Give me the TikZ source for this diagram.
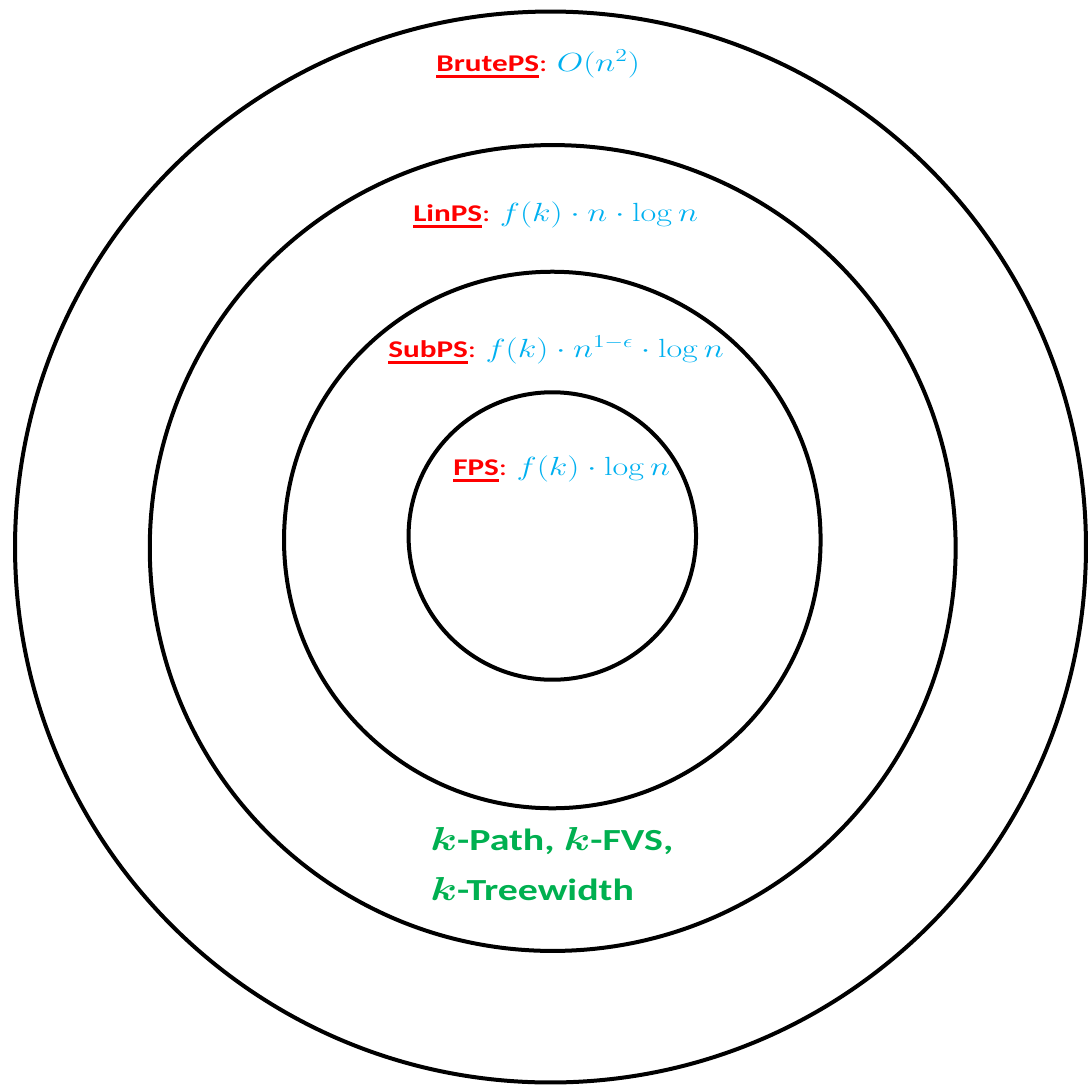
\documentclass[tikz,border=0pt]{standalone}
\usepackage{amsmath}
\usepackage[no-math]{fontspec}
\setmainfont{Carlito}
\usepackage{graphicx}
\usepackage{tikz}
\usetikzlibrary{positioning}

\definecolor{psred}{HTML}{FF0000}
\definecolor{psblue}{HTML}{00B0F0}
\definecolor{psgreen}{HTML}{00B050}

% underlined class name, running time, wide text
\newcommand{\ulname}[1]{\setbox0\hbox{\bfseries #1}\rlap{\rule[-5.2pt]{\wd0}{2.2pt}}\box0}
\newcommand{\runtime}[1]{{\color{psblue}\fontsize{20}{24}\selectfont\scalebox{0.95}{$#1$}}}
\newcommand{\widetext}[1]{\scalebox{1.3}[1]{#1}}

\tikzset{
  ring/.style={draw, line width=3pt},
  classlabel/.style={anchor=base west, inner sep=0pt, text=psred, font=\fontsize{18}{22}\selectfont},
  problems/.style={anchor=base west, inner sep=0pt, text=psgreen, font=\fontsize{23}{37.5}\selectfont\bfseries\boldmath}
}

\begin{document}
\begin{tikzpicture}[x=0.75pt, y=-0.75pt]
\useasboundingbox (0,0) rectangle (1088,1085);

% nested classes
\draw[ring] (550.5,547) circle (401.6pt);
\draw[ring] (552.7,548) circle (302.2pt);
\draw[ring] (552.3,540) circle (201.2pt);
\draw[ring] (552.3,536) circle (107.8pt);

\node[classlabel] (brute) at (436,71) {\widetext{\ulname{BrutePS}: \runtime{O(n^2)}}};
\node[classlabel] (lin) at (413,221) {\widetext{\ulname{LinPS}: \runtime{f(k)\cdot n\cdot \log n}}};
\node[classlabel] (sub) at (388,357) {\widetext{\ulname{SubPS}: \runtime{f(k)\cdot n^{1-\epsilon}\cdot \log n}}};
\node[classlabel] (fps) at (453,475) {\widetext{\ulname{FPS}: \runtime{f(k)\cdot \log n}}};

\node[problems] (probs) at (430,850)
  {\widetext{\begin{tabular}[t]{@{}l@{}}$k$-Path, $k$-FVS,\\$k$-Treewidth\end{tabular}}};
\end{tikzpicture}
\end{document}
